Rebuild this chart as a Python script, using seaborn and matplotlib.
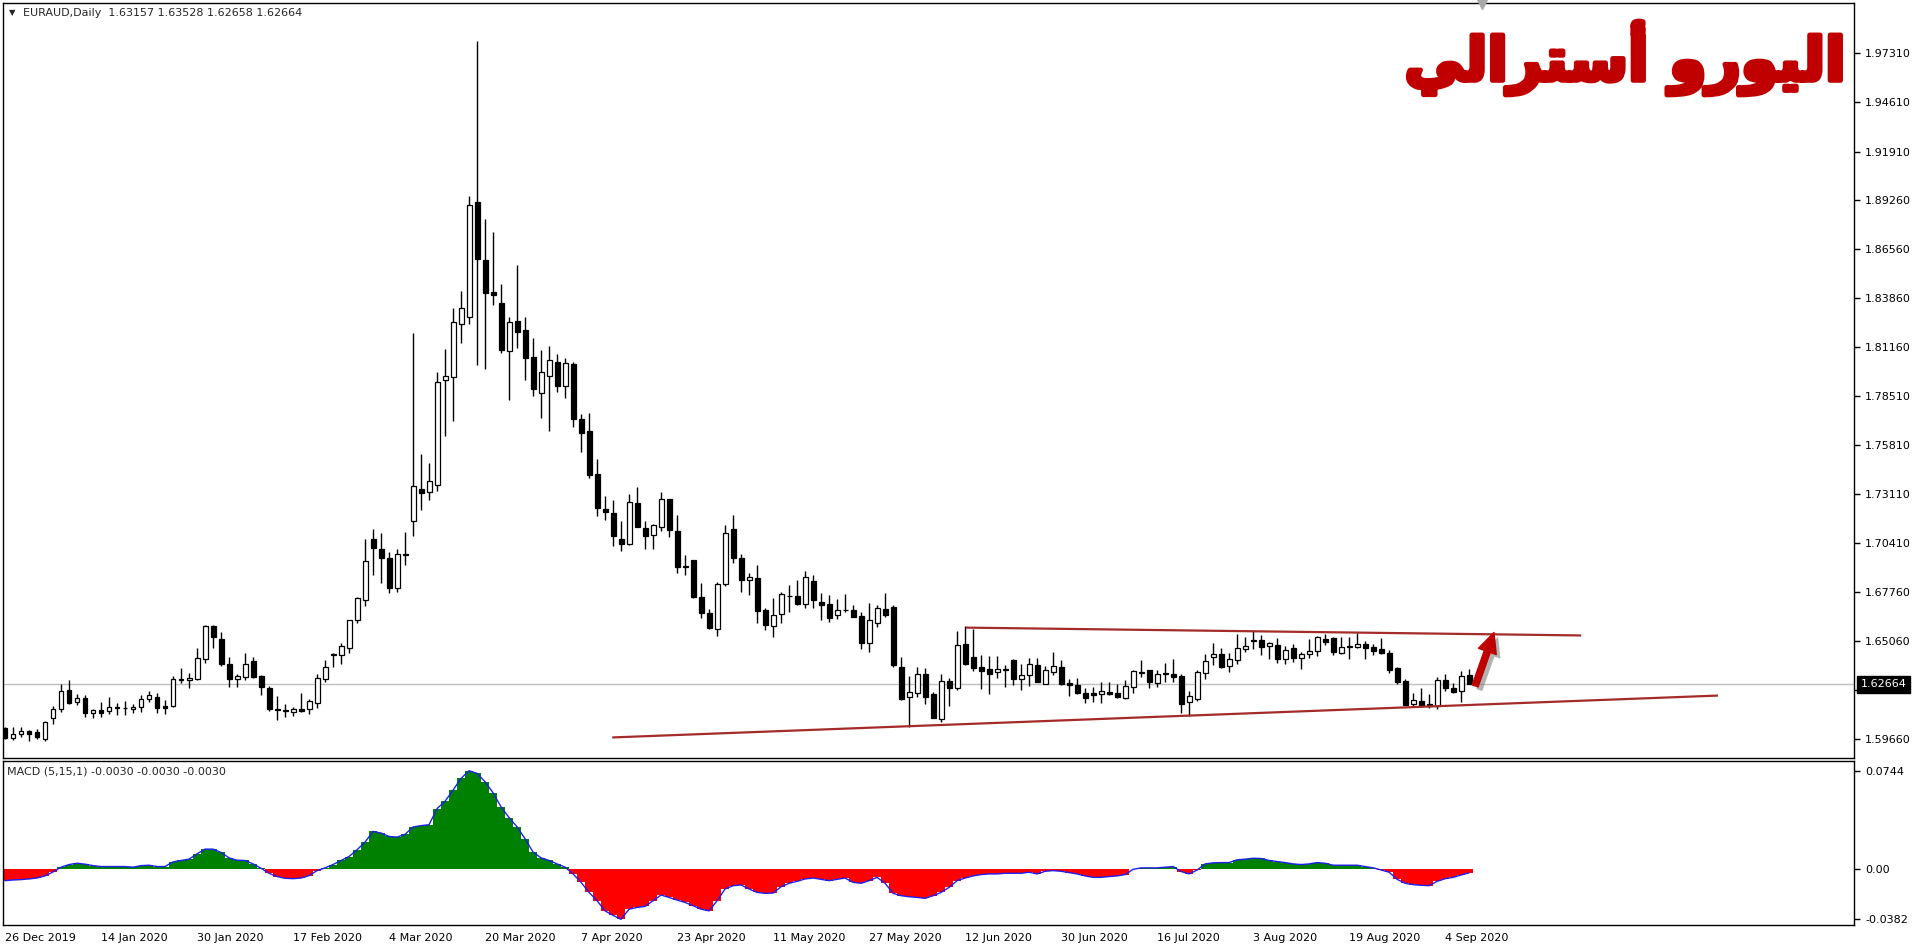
import pandas as pd
import matplotlib.pyplot as plt
import matplotlib.patheffects as pe
from matplotlib.transforms import blended_transform_factory
import seaborn as sns

# daily bars, 1 Jan is closed
dates = [d for d in pd.bdate_range('2019-12-26', '2020-09-09') if not (d.month == 1 and d.day == 1)]

opens = [
    1.60251, 1.59702, 1.59922, 1.60086, 1.60050, 1.59684, 1.60803, 1.61294, 1.62358, 1.61678,
    1.61898, 1.61074, 1.61239, 1.61184, 1.61385, 1.61349, 1.61294, 1.61404, 1.61843, 1.61971,
    1.61459, 1.61459, 1.62923, 1.62886, 1.62941, 1.64039, 1.65851, 1.65150, 1.63800, 1.62942,
    1.63064, 1.63972, 1.63113, 1.62451, 1.61320, 1.61230, 1.61149, 1.61295, 1.61320, 1.61664,
    1.62942, 1.64291, 1.64291, 1.64659, 1.66205, 1.67285, 1.70672, 1.70107, 1.69616, 1.67948,
    1.69788, 1.71653, 1.73372, 1.73244, 1.73628, 1.79356, 1.79557, 1.82430, 1.82814, 1.89128,
    1.85944, 1.84205, 1.83583, 1.80985, 1.82595, 1.82119, 1.80637, 1.78679, 1.79612, 1.80344,
    1.79063, 1.80252, 1.77215, 1.76556, 1.74195, 1.72292, 1.72054, 1.70645, 1.70389, 1.72603,
    1.71231, 1.70846, 1.71285, 1.72823, 1.71084, 1.69163, 1.69492, 1.67461, 1.66582, 1.65722,
    1.68193, 1.71194, 1.69602, 1.68376, 1.68504, 1.66729, 1.65850, 1.66509, 1.67497, 1.67516,
    1.67095, 1.68339, 1.67168, 1.67077, 1.66454, 1.66747, 1.66747, 1.66418, 1.64954, 1.66052,
    1.66802, 1.66912, 1.63599, 1.61989, 1.62209, 1.63215, 1.62117, 1.60781, 1.62849, 1.62483,
    1.64880, 1.64167, 1.63599, 1.63490, 1.63325, 1.63471, 1.64002, 1.62941, 1.63197, 1.63728,
    1.62703, 1.63361, 1.63599, 1.62739, 1.62611, 1.62190, 1.62190, 1.62117, 1.62245, 1.62190,
    1.61934, 1.62501, 1.63307, 1.63453, 1.62721, 1.63252, 1.63215, 1.63105, 1.61678, 1.61843,
    1.63270, 1.64148, 1.64313, 1.63654, 1.63984, 1.64588, 1.65063, 1.65100, 1.64752, 1.64807,
    1.64076, 1.64643, 1.64094, 1.64313, 1.64478, 1.65155, 1.65210, 1.64405, 1.64734, 1.64734,
    1.64881, 1.64697, 1.64606, 1.64368, 1.63563, 1.62831, 1.61605, 1.61733, 1.61586, 1.61495,
    1.62886, 1.62465, 1.62282, 1.63157]
highs = [
    1.60305, 1.60305, 1.60305, 1.60159, 1.60196, 1.60635, 1.61477, 1.62686, 1.62904, 1.62136,
    1.62081, 1.61312, 1.61696, 1.61971, 1.61641, 1.61751, 1.61586, 1.62081, 1.62300, 1.62209,
    1.61806, 1.63124, 1.63563, 1.63270, 1.64679, 1.65906, 1.65906, 1.65518, 1.64144, 1.63212,
    1.64389, 1.64168, 1.63187, 1.62573, 1.62009, 1.61592, 1.61418, 1.62205, 1.61885, 1.63236,
    1.63997, 1.64389, 1.64954, 1.66205, 1.67481, 1.70672, 1.71212, 1.70991, 1.69935, 1.70107,
    1.71040, 1.81960, 1.75311, 1.74799, 1.79813, 1.81076, 1.83327, 1.84260, 1.89476, 1.98002,
    1.88213, 1.87499, 1.84645, 1.82833, 1.85688, 1.82833, 1.81680, 1.81021, 1.81241, 1.80801,
    1.80582, 1.80362, 1.77507, 1.77562, 1.75037, 1.73007, 1.72786, 1.71633, 1.73115, 1.73481,
    1.71633, 1.71468, 1.73225, 1.72859, 1.71944, 1.69767, 1.69510, 1.68229, 1.66802, 1.68284,
    1.71413, 1.71963, 1.69821, 1.68778, 1.69199, 1.66857, 1.67406, 1.67735, 1.68120, 1.68394,
    1.68888, 1.68669, 1.67662, 1.67571, 1.67333, 1.67625, 1.67040, 1.66637, 1.67113, 1.67040,
    1.67699, 1.67040, 1.64167, 1.63124, 1.63618, 1.63544, 1.62227, 1.63233, 1.63032, 1.65594,
    1.65869, 1.65722, 1.64277, 1.64222, 1.64240, 1.63728, 1.64057, 1.63764, 1.64112, 1.64112,
    1.63654, 1.64441, 1.64002, 1.62959, 1.63014, 1.62465, 1.62520, 1.62794, 1.62794, 1.62684,
    1.62904, 1.63453, 1.64002, 1.63470, 1.63453, 1.63837, 1.64057, 1.63215, 1.62300, 1.63471,
    1.64331, 1.64935, 1.64643, 1.64386, 1.65429, 1.65246, 1.65594, 1.65375, 1.64990, 1.65210,
    1.64771, 1.64899, 1.64423, 1.65155, 1.65320, 1.65448, 1.65265, 1.65265, 1.65283, 1.65484,
    1.65045, 1.64881, 1.65210, 1.64551, 1.63599, 1.62959, 1.62190, 1.62465, 1.62135, 1.63069,
    1.63252, 1.62739, 1.63380, 1.63528]
lows = [
    1.59647, 1.59610, 1.59757, 1.59574, 1.59684, 1.59574, 1.60470, 1.61166, 1.61569, 1.61514,
    1.60854, 1.60803, 1.60854, 1.61056, 1.60964, 1.60964, 1.61111, 1.61166, 1.61678, 1.61074,
    1.61019, 1.61440, 1.62758, 1.62447, 1.62904, 1.63856, 1.64643, 1.63678, 1.62500, 1.62500,
    1.62893, 1.63015, 1.62083, 1.61199, 1.60733, 1.60856, 1.60930, 1.61173, 1.61026, 1.61346,
    1.62770, 1.63604, 1.63800, 1.64365, 1.66009, 1.66942, 1.68659, 1.68218, 1.67653, 1.67727,
    1.69199, 1.70794, 1.72237, 1.72786, 1.73299, 1.76318, 1.77141, 1.81424, 1.82467, 1.80216,
    1.79996, 1.83510, 1.80875, 1.78294, 1.81149, 1.79392, 1.78514, 1.77269, 1.76592, 1.78734,
    1.78404, 1.76775, 1.75440, 1.74012, 1.71926, 1.71706, 1.70279, 1.70004, 1.70334, 1.71300,
    1.70114, 1.70114, 1.71102, 1.70773, 1.68797, 1.68687, 1.67424, 1.66326, 1.65704, 1.65338,
    1.68083, 1.69346, 1.67754, 1.67589, 1.66052, 1.65667, 1.65283, 1.66015, 1.66637, 1.67022,
    1.66875, 1.66875, 1.66198, 1.66107, 1.66271, 1.66619, 1.66344, 1.64624, 1.64460, 1.65832,
    1.66344, 1.63599, 1.61806, 1.60324, 1.61989, 1.61605, 1.60799, 1.60617, 1.61477, 1.62373,
    1.63728, 1.63416, 1.62428, 1.62154, 1.63032, 1.62538, 1.62611, 1.62373, 1.62593, 1.62790,
    1.62680, 1.63197, 1.62611, 1.62026, 1.62154, 1.61660, 1.61715, 1.61660, 1.62099, 1.61934,
    1.61879, 1.62172, 1.63069, 1.62483, 1.62538, 1.62794, 1.62794, 1.61092, 1.60928, 1.61769,
    1.62977, 1.63746, 1.63544, 1.63361, 1.63801, 1.64460, 1.64624, 1.64295, 1.64039, 1.63856,
    1.63801, 1.63911, 1.63490, 1.64130, 1.64240, 1.64826, 1.64295, 1.64332, 1.64076, 1.64643,
    1.64076, 1.64295, 1.64350, 1.63307, 1.62703, 1.61513, 1.61440, 1.61440, 1.61349, 1.61330,
    1.62282, 1.62209, 1.61715, 1.62658]
closes = [
    1.59702, 1.59922, 1.60086, 1.59922, 1.59757, 1.60607, 1.61294, 1.62282, 1.61660, 1.61898,
    1.61111, 1.61239, 1.61111, 1.61404, 1.61422, 1.61367, 1.61404, 1.61843, 1.62081, 1.61385,
    1.61385, 1.62941, 1.62941, 1.62996, 1.64093, 1.65851, 1.65246, 1.63800, 1.62942, 1.63113,
    1.63800, 1.63064, 1.62524, 1.61295, 1.61246, 1.61215, 1.61320, 1.61222, 1.61737, 1.62990,
    1.63629, 1.64341, 1.64782, 1.66181, 1.67407, 1.69445, 1.70132, 1.69592, 1.67972, 1.69837,
    1.69837, 1.73567, 1.73152, 1.73811, 1.79246, 1.79576, 1.82540, 1.83309, 1.88963, 1.85999,
    1.84169, 1.84059, 1.81021, 1.82540, 1.82028, 1.80600, 1.78898, 1.79795, 1.80454, 1.79063,
    1.80289, 1.77251, 1.76483, 1.74177, 1.72365, 1.72146, 1.70828, 1.70389, 1.72658, 1.71322,
    1.70828, 1.71395, 1.72823, 1.71157, 1.69126, 1.69089, 1.67479, 1.66601, 1.65777, 1.68156,
    1.70956, 1.69620, 1.68412, 1.68540, 1.66710, 1.65905, 1.66473, 1.67607, 1.67534, 1.67095,
    1.68540, 1.67278, 1.67040, 1.66326, 1.66729, 1.66765, 1.66381, 1.64954, 1.66180, 1.66857,
    1.66491, 1.63746, 1.61861, 1.62227, 1.63215, 1.61989, 1.60836, 1.62849, 1.62483, 1.64807,
    1.63782, 1.63581, 1.63416, 1.63252, 1.63490, 1.63490, 1.62977, 1.63179, 1.63764, 1.62813,
    1.63453, 1.63654, 1.62703, 1.62629, 1.62209, 1.61934, 1.62099, 1.62282, 1.62135, 1.61989,
    1.62556, 1.63398, 1.63343, 1.62813, 1.63215, 1.63288, 1.63087, 1.61605, 1.62007, 1.63343,
    1.63947, 1.64313, 1.63636, 1.64039, 1.64643, 1.64752, 1.65100, 1.64734, 1.64917, 1.64076,
    1.64551, 1.64130, 1.64313, 1.64478, 1.65265, 1.65009, 1.64460, 1.64697, 1.64771, 1.64862,
    1.64679, 1.64514, 1.64405, 1.63471, 1.62813, 1.61550, 1.61788, 1.61495, 1.61477, 1.62886,
    1.62447, 1.62264, 1.63142, 1.62664]
macd = [
    -0.0089, -0.0084, -0.0081, -0.0076, -0.0069, -0.0053, -0.0023, 0.0013, 0.0033, 0.0043,
    0.0036, 0.0025, 0.0018, 0.0018, 0.0018, 0.0018, 0.0013, 0.0025, 0.0028, 0.0018,
    0.0018, 0.0053, 0.0064, 0.0074, 0.0114, 0.0150, 0.0150, 0.0125, 0.0084, 0.0066,
    0.0064, 0.0038, 0.0005, -0.0033, -0.0058, -0.0071, -0.0074, -0.0069, -0.0051, -0.0013,
    0.0008, 0.0033, 0.0064, 0.0094, 0.0145, 0.0203, 0.0284, 0.0272, 0.0246, 0.0241,
    0.0262, 0.0318, 0.0328, 0.0335, 0.0457, 0.0513, 0.0597, 0.0686, 0.0744, 0.0724,
    0.0660, 0.0577, 0.0470, 0.0389, 0.0318, 0.0229, 0.0127, 0.0084, 0.0064, 0.0038,
    0.0013, -0.0038, -0.0102, -0.0178, -0.0241, -0.0318, -0.0352, -0.0382, -0.0305, -0.0292,
    -0.0284, -0.0241, -0.0198, -0.0216, -0.0236, -0.0254, -0.0279, -0.0305, -0.0318, -0.0241,
    -0.0152, -0.0127, -0.0122, -0.0152, -0.0178, -0.0185, -0.0183, -0.0135, -0.0109, -0.0094,
    -0.0076, -0.0069, -0.0079, -0.0089, -0.0079, -0.0069, -0.0102, -0.0109, -0.0089, -0.0064,
    -0.0109, -0.0185, -0.0203, -0.0211, -0.0216, -0.0223, -0.0203, -0.0178, -0.0140, -0.0089,
    -0.0069, -0.0053, -0.0043, -0.0038, -0.0038, -0.0033, -0.0033, -0.0033, -0.0025, -0.0038,
    -0.0018, -0.0013, -0.0018, -0.0028, -0.0038, -0.0053, -0.0064, -0.0064, -0.0058, -0.0053,
    -0.0043, -0.0003, 0.0008, 0.0008, 0.0008, 0.0013, 0.0018, -0.0020, -0.0038, -0.0008,
    0.0038, 0.0046, 0.0048, 0.0048, 0.0069, 0.0074, 0.0081, 0.0079, 0.0064, 0.0056,
    0.0048, 0.0038, 0.0033, 0.0038, 0.0048, 0.0043, 0.0028, 0.0028, 0.0028, 0.0028,
    0.0018, 0.0008, -0.0008, -0.0025, -0.0079, -0.0109, -0.0119, -0.0124, -0.0127, -0.0094,
    -0.0074, -0.0064, -0.0046, -0.0030]

price_ticks = [1.97310, 1.94610, 1.91910, 1.89260, 1.86560, 1.83860, 1.81160, 1.78510,
               1.75810, 1.73110, 1.70410, 1.67760, 1.65060, 1.62360, 1.59660]
last_price = 1.62664
macd_ticks = [-0.0382, 0.0, 0.0744]
macd_tick_labels = ['-0.0382', '0.00', '0.0744']

header = 'EURAUD,Daily  1.63157 1.63528 1.62658 1.62664'
macd_label = 'MACD (5,15,1) -0.0030 -0.0030 -0.0030'
# "اليورو أسترالي" written in shaped (presentation) forms, visual order
title_ar = '\uFEF2\uFEDF\uFE8D\uFEAE\uFE98\uFEB3\uFE83 \uFEED\uFEAD\uFEEE\uFEF4\uFEDF\uFE8D'

# drawn trend lines: bar index / price
upper_x = [120.1, 197.0]
upper_y = [1.6578, 1.6535]
lower_x = [75.9, 214.1]
lower_y = [1.5975, 1.6205]
arrow_from = (183.75, 1.6258)
arrow_to = (186.1, 1.6551)

n = len(opens)
idx = list(range(n))
dates = dates[:n]

sns.set_style('white')
plt.rcParams['font.family'] = ['DejaVu Sans']

fig = plt.figure(figsize=(19.2, 9.5), dpi=100)
ax = fig.add_axes([3 / 1920, 1 - 758 / 950, 1851 / 1920, 755 / 950])
ax2 = fig.add_axes([3 / 1920, 1 - 925 / 950, 1851 / 1920, 164.3 / 950])

# candles
body_lo = [min(o, c) for o, c in zip(opens, closes)]
body_h = [max(abs(c - o), 0.00002) for o, c in zip(opens, closes)]
fills = ['white' if c >= o else 'black' for o, c in zip(opens, closes)]
ax.vlines(idx, lows, highs, color='black', lw=1, zorder=2)
ax.bar(idx, body_h, bottom=body_lo, width=0.62, color=fills, edgecolor='black',
       linewidth=0.9, zorder=3)

ax.axhline(last_price, color='#C0C0C0', lw=1, zorder=1)
ax.plot(upper_x, upper_y, color='#A52A2A', lw=1.6, zorder=4, solid_capstyle='butt')
ax.plot(lower_x, lower_y, color='#A52A2A', lw=1.6, zorder=4, solid_capstyle='butt')

ann = ax.annotate('', xy=arrow_to, xytext=arrow_from, zorder=5,
                  arrowprops=dict(arrowstyle='simple,head_length=0.9,head_width=0.85,tail_width=0.28',
                                  color='#C00000', mutation_scale=16, shrinkA=0, shrinkB=0))
ann.arrow_patch.set_path_effects([pe.SimplePatchShadow(offset=(3, -3), shadow_rgbFace='#808080', alpha=0.6),
                                  pe.Normal()])

ax.set_xlim(-0.25, 231.1)
ax.set_ylim(1.58622, 2.00071)
ax.set_xticks([])
ax.yaxis.tick_right()
ax.set_yticks(price_ticks)
ax.set_yticklabels([f'{t:.5f}' for t in price_ticks])
ax.tick_params(axis='y', direction='out', length=4, width=1, pad=4, labelsize=8, colors='black')

tr = blended_transform_factory(ax.transAxes, ax.transData)
ax.text(1.0036, last_price, f'{last_price:.5f}', transform=tr, color='white', fontsize=8,
        ha='left', va='center', zorder=10, clip_on=False,
        bbox=dict(facecolor='black', edgecolor='black', boxstyle='square,pad=0.32'))
ax.plot([184.6], [2.0004], marker='v', color='#A8A8A8', markersize=7, clip_on=False, zorder=6)

# MACD panel
ax2.bar(idx, macd, width=1.0, color=['#008000' if v > 0 else '#FF0000' for v in macd],
        linewidth=0, zorder=2)
sns.lineplot(x=idx, y=macd, ax=ax2, color='#1E1EF0', lw=1.0, zorder=3)
ax2.set_xlim(-0.25, 231.1)
ax2.set_ylim(-0.0425, 0.0820)
ax2.yaxis.tick_right()
ax2.set_yticks(macd_ticks)
ax2.set_yticklabels(macd_tick_labels)
tick_pos = idx[::12]
ax2.set_xticks(tick_pos)
ax2.set_xticklabels([f'{dates[i].day} {dates[i].strftime("%b %Y")}' for i in tick_pos])
for lab in ax2.get_xticklabels():
    lab.set_ha('left')
ax2.tick_params(axis='y', direction='out', length=4, width=1, pad=4, labelsize=8, colors='black')
ax2.tick_params(axis='x', direction='out', length=4, width=1, pad=2, labelsize=8, colors='black')
ax2.set_ylabel('')

for a in (ax, ax2):
    for s in a.spines.values():
        s.set_color('black')
        s.set_linewidth(1)
    a.set_facecolor('white')

fig.text(9 / 1920, 1 - 13 / 950, '\u25BC', fontsize=6, va='center', ha='left')
fig.text(23 / 1920, 1 - 13 / 950, header, fontsize=8, va='center', ha='left')
fig.text(7 / 1920, 1 - 771 / 950, macd_label, fontsize=8, va='center', ha='left')
fig.text(1845 / 1920, 1 - 58 / 950, title_ar, fontsize=43, fontweight='bold',
         color='#C00000', ha='right', va='center',
         path_effects=[pe.withStroke(linewidth=3.5, foreground='#C00000')])

fig.savefig('out.png', dpi=100, facecolor='white')
